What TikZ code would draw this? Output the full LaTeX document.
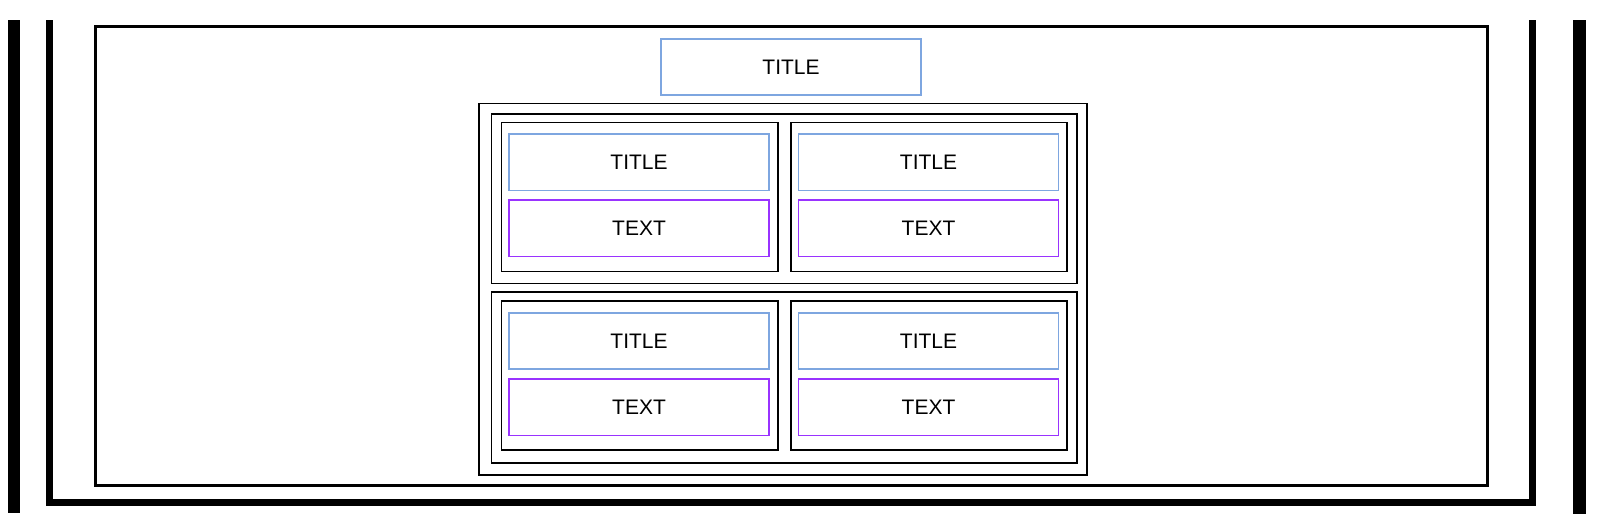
\documentclass[tikz,border=0pt]{standalone}
\usepackage{fontspec}
\setmainfont{Liberation Sans}
\definecolor{tblue}{HTML}{7EA6E0}
\definecolor{tpurple}{HTML}{9933FF}
\begin{document}
\begin{tikzpicture}[x=1pt,y=-1pt,
  box/.style={draw=black,line width=1.8pt,rectangle,inner sep=0pt},
  titlebox/.style={draw=tblue,line width=1.6pt,rectangle,inner sep=0pt,
    minimum width=260pt,minimum height=56.5pt,font=\fontsize{21}{25}\selectfont},
  textbox/.style={draw=tpurple,line width=1.6pt,rectangle,inner sep=0pt,
    minimum width=260pt,minimum height=56.5pt,font=\fontsize{21}{25}\selectfont}]
\useasboundingbox (0,0) rectangle (1602,528);
% side bars
\fill[black] (7.5,20) rectangle (20,513);
\fill[black] (1573,20) rectangle (1586,514);
\draw[line width=7pt,line join=miter] (49.5,20) -- (49.5,502.5) -- (1532,502.5) -- (1532,20);
% inner frame
\draw[line width=3pt] (95,26.5) rectangle (1487.5,485);
% top title
\node[titlebox,minimum height=56pt] (t0) at (791,67) {TITLE};
% group boxes
\node[box,minimum width=608pt,minimum height=371.5pt] (g0) at (783,289.25) {};
\node[box,minimum width=585.5pt,minimum height=169.5pt] (r1) at (784.25,198.75) {};
\node[box,minimum width=585.5pt,minimum height=171pt] (r2) at (784.25,377.5) {};
% cards
\node[box,minimum width=276.5pt,minimum height=149pt] (c11) at (639.75,197) {};
\node[box,minimum width=276pt,minimum height=149pt] (c12) at (929,197) {};
\node[box,minimum width=276.5pt,minimum height=149pt] (c21) at (639.75,375.5) {};
\node[box,minimum width=276pt,minimum height=149pt] (c22) at (929,375.5) {};
% card contents
\node[titlebox] (t11) at (639,162.25) {TITLE};
\node[textbox] (x11) at (639,228.25) {TEXT};
\node[titlebox] (t12) at (928.5,162.25) {TITLE};
\node[textbox] (x12) at (928.5,228.25) {TEXT};
\node[titlebox] (t21) at (639,341) {TITLE};
\node[textbox] (x21) at (639,407.25) {TEXT};
\node[titlebox] (t22) at (928.5,341) {TITLE};
\node[textbox] (x22) at (928.5,407.25) {TEXT};
\end{tikzpicture}
\end{document}
